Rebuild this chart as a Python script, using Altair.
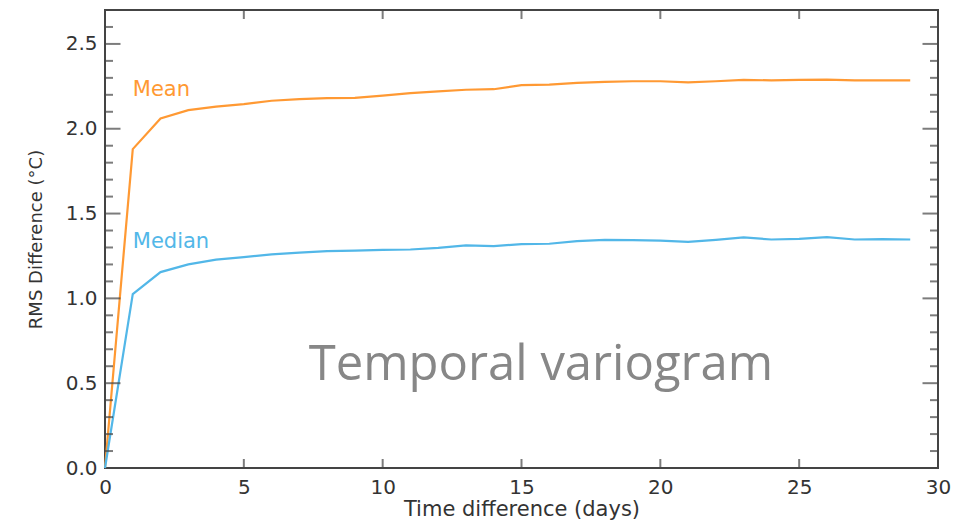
import altair as alt
import pandas as pd

# ---- data ----
days = list(range(30))
mean_rms = [0.0, 1.88, 2.06, 2.11, 2.13, 2.145, 2.165, 2.175, 2.18, 2.182,
            2.195, 2.21, 2.22, 2.23, 2.233, 2.257, 2.26, 2.27, 2.276, 2.28,
            2.28, 2.273, 2.28, 2.288, 2.285, 2.288, 2.29, 2.285, 2.285, 2.285]
median_rms = [0.0, 1.025, 1.155, 1.2, 1.228, 1.243, 1.259, 1.27, 1.278, 1.282,
              1.286, 1.288, 1.298, 1.312, 1.308, 1.32, 1.322, 1.337, 1.345, 1.343,
              1.341, 1.333, 1.345, 1.359, 1.347, 1.351, 1.361, 1.347, 1.349, 1.347]
series_names = ["Mean", "Median"]
series_colors = ["#FF9933", "#52B7E8"]

x_domain = [0, 30]
y_domain = [0, 2.7]
x_tick_values = [0, 5, 10, 15, 20, 25, 30]
y_tick_values = [0.0, 0.5, 1.0, 1.5, 2.0, 2.5]
y_minor = [round(i * 0.1, 1) for i in range(1, 27) if i % 5 != 0]
y_major = [0.5, 1.0, 1.5, 2.0, 2.5]
x_major = [5, 10, 15, 20, 25]

label_pos = {"Mean": (1.0, 2.194), "Median": (1.0, 1.298)}
overlay_text = "Temporal variogram"
overlay_pos = (15.7, 0.518)

FONT = "DejaVu Sans"
FRAME = "#444444"

# ---- tables ----
lines_df = pd.DataFrame({
    "day": days * 2,
    "rms": mean_rms + median_rms,
    "series": ["Mean"] * len(days) + ["Median"] * len(days),
})
ymaj_df = pd.DataFrame({"x": [x_domain[0]] * len(y_major) + [x_domain[1]] * len(y_major),
                        "y": y_major * 2})
ymin_df = pd.DataFrame({"x": [x_domain[0]] * len(y_minor) + [x_domain[1]] * len(y_minor),
                        "y": y_minor * 2})
xmaj_df = pd.DataFrame({"x": x_major * 2,
                        "y": [y_domain[0]] * len(x_major) + [y_domain[1]] * len(x_major)})
lab_df = pd.DataFrame({"x": [label_pos[s][0] for s in series_names],
                       "y": [label_pos[s][1] for s in series_names],
                       "series": series_names})
over_df = pd.DataFrame({"x": [overlay_pos[0]], "y": [overlay_pos[1]], "t": [overlay_text]})

xs = alt.Scale(domain=x_domain, nice=False, zero=False)
ys = alt.Scale(domain=y_domain, nice=False, zero=False)
color_scale = alt.Scale(domain=series_names, range=series_colors)

x_axis = alt.Axis(values=x_tick_values, format="d", title="Time difference (days)",
                  domain=False, ticks=False, tickSize=0, grid=False, labelFlush=False,
                  labelFont=FONT, labelFontSize=20, labelColor="#333333", labelPadding=9,
                  titleFont=FONT, titleFontSize=21, titleFontWeight="normal",
                  titleColor="#333333", titlePadding=1)
y_axis = alt.Axis(values=y_tick_values, format=".1f", title="RMS Difference (°C)",
                  domain=False, ticks=False, tickSize=0, grid=False, labelFlush=False,
                  labelFont=FONT, labelFontSize=20, labelColor="#333333", labelPadding=8,
                  titleFont=FONT, titleFontSize=18, titleFontWeight="normal",
                  titleColor="#333333", titlePadding=20)

lines = alt.Chart(lines_df).mark_line(strokeWidth=2.2).encode(
    x=alt.X("day:Q", scale=xs, axis=x_axis),
    y=alt.Y("rms:Q", scale=ys, axis=y_axis),
    color=alt.Color("series:N", scale=color_scale, legend=None),
)

ymaj = alt.Chart(ymaj_df).mark_tick(orient="horizontal", size=31, thickness=2,
                                    color=FRAME, clip=True).encode(
    x=alt.X("x:Q", scale=xs), y=alt.Y("y:Q", scale=ys))
ymin = alt.Chart(ymin_df).mark_tick(orient="horizontal", size=16, thickness=2,
                                    color=FRAME, clip=True).encode(
    x=alt.X("x:Q", scale=xs), y=alt.Y("y:Q", scale=ys))
xmaj = alt.Chart(xmaj_df).mark_tick(orient="vertical", size=18, thickness=2,
                                    color=FRAME, clip=True).encode(
    x=alt.X("x:Q", scale=xs), y=alt.Y("y:Q", scale=ys))

labels = alt.Chart(lab_df).mark_text(align="left", baseline="alphabetic",
                                     font=FONT, fontSize=21).encode(
    x=alt.X("x:Q", scale=xs), y=alt.Y("y:Q", scale=ys),
    text="series:N",
    color=alt.Color("series:N", scale=color_scale, legend=None))

overlay = alt.Chart(over_df).mark_text(align="center", baseline="alphabetic",
                                       font="Open Sans", fontSize=49,
                                       color="#878787").encode(
    x=alt.X("x:Q", scale=xs), y=alt.Y("y:Q", scale=ys), text="t:N")

chart = alt.layer(lines, ymaj, ymin, xmaj, labels, overlay).properties(
    width=833, height=458,
    autosize=alt.AutoSizeParams(type="none"),
    padding={"left": 97, "top": 2, "right": 20, "bottom": 52},
    background="white",
).configure_view(stroke=FRAME, strokeWidth=2)

chart.save("out.html", embed_options={"renderer": "svg", "actions": False})
